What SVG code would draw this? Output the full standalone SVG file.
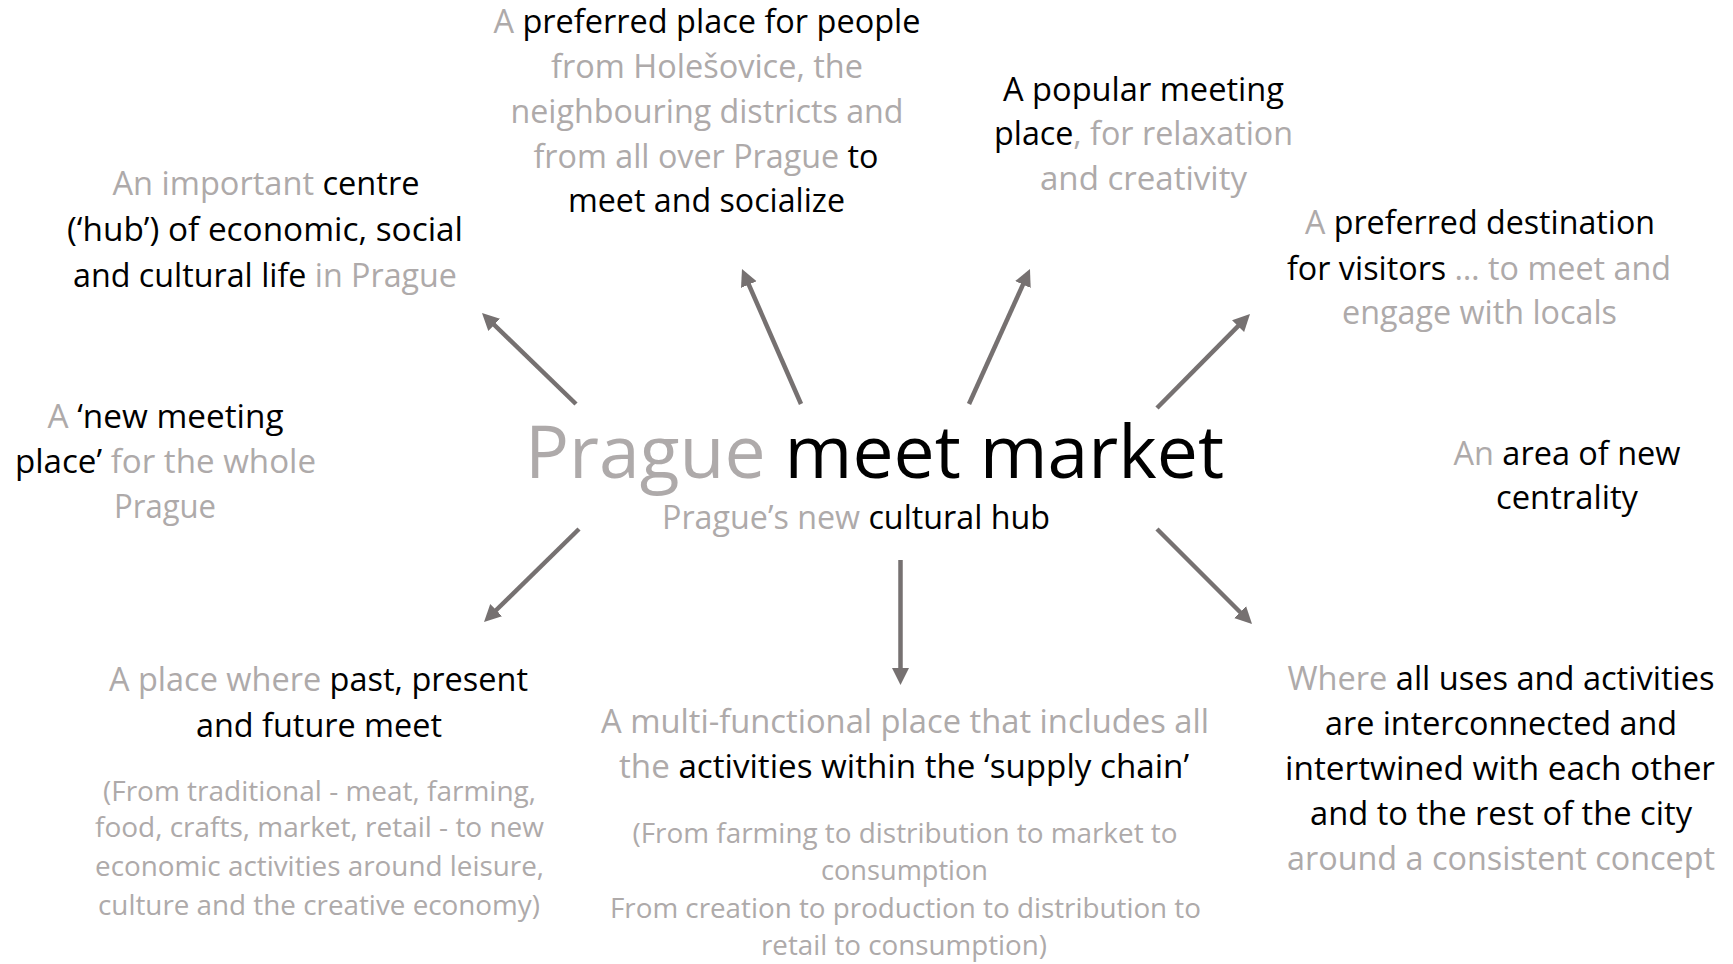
<svg xmlns="http://www.w3.org/2000/svg" width="1733" height="964" viewBox="0 0 1733 964">
  <defs>
    <style>
      text { font-family: "Open Sans", "Liberation Sans", sans-serif; font-weight: 500; text-anchor: middle; fill: #000000; }
      .t { font-size: 32px; }
      .p { font-size: 27.5px; fill: #AEAAAA; }
      .title { font-size: 73px; font-weight: 400; }
      .g { fill: #AEAAAA; }
      .k { fill: #000000; }
      #connectors line { stroke: #767171; stroke-width: 4.5; fill: none; marker-end: url(#arrow); }
    </style>
    <marker id="arrow" markerUnits="userSpaceOnUse" markerWidth="18" markerHeight="18" refX="12" refY="8.5" orient="auto">
      <path d="M0,0 L17,8.5 L0,17 z" fill="#767171"/>
    </marker>
  </defs>

  <rect width="1733" height="964" fill="#ffffff"/>

  <!-- central hub -->
  <g id="hub">
    <text class="title" x="874.5" y="478" textLength="699" lengthAdjust="spacingAndGlyphs"><tspan class="g">Prague</tspan> meet market</text>
    <text class="t" x="856" y="529" textLength="388" lengthAdjust="spacingAndGlyphs"><tspan class="g">Prague’s new</tspan> cultural hub</text>
  </g>

  <!-- spokes from the hub -->
  <g id="connectors">
    <line x1="576" y1="404" x2="485.6" y2="316.5"/>
    <line x1="801" y1="404" x2="744" y2="273.6"/>
    <line x1="969" y1="404" x2="1027.9" y2="273.6"/>
    <line x1="1157" y1="408" x2="1246.5" y2="317.6"/>
    <line x1="579" y1="529" x2="487.6" y2="618.5"/>
    <line x1="900.5" y1="560" x2="900.5" y2="680"/>
    <line x1="1157" y1="529" x2="1248.5" y2="620.5"/>
  </g>

  <g id="centre-of-life">
    <text class="t" x="266" y="195" textLength="307" lengthAdjust="spacingAndGlyphs"><tspan class="g">An important</tspan> centre</text>
    <text class="t" x="265" y="241" textLength="396" lengthAdjust="spacingAndGlyphs">(‘hub’) of economic, social</text>
    <text class="t" x="265" y="287" textLength="384" lengthAdjust="spacingAndGlyphs">and cultural life <tspan class="g">in Prague</tspan></text>
  </g>

  <g id="preferred-place">
    <text class="t" x="707" y="33" textLength="427" lengthAdjust="spacingAndGlyphs"><tspan class="g">A</tspan> preferred place for people</text>
    <text class="t g" x="707" y="78" textLength="312" lengthAdjust="spacingAndGlyphs">from Holešovice, the</text>
    <text class="t g" x="707" y="123" textLength="393" lengthAdjust="spacingAndGlyphs">neighbouring districts and</text>
    <text class="t" x="706" y="168" textLength="345" lengthAdjust="spacingAndGlyphs"><tspan class="g">from all over Prague</tspan> to</text>
    <text class="t" x="706.5" y="212" textLength="277" lengthAdjust="spacingAndGlyphs">meet and socialize</text>
  </g>

  <g id="popular-meeting-place">
    <text class="t" x="1143.5" y="101" textLength="281" lengthAdjust="spacingAndGlyphs">A popular meeting</text>
    <text class="t" x="1143.5" y="145" textLength="299" lengthAdjust="spacingAndGlyphs">place<tspan class="g">, for relaxation</tspan></text>
    <text class="t g" x="1143.5" y="190" textLength="207" lengthAdjust="spacingAndGlyphs">and creativity</text>
  </g>

  <g id="visitor-destination">
    <text class="t" x="1480" y="234" textLength="350" lengthAdjust="spacingAndGlyphs"><tspan class="g">A</tspan> preferred destination</text>
    <text class="t" x="1479" y="280" textLength="384" lengthAdjust="spacingAndGlyphs">for visitors <tspan class="g">… to meet and</tspan></text>
    <text class="t g" x="1479.5" y="324" textLength="275" lengthAdjust="spacingAndGlyphs">engage with locals</text>
  </g>

  <g id="new-centrality">
    <text class="t" x="1567" y="465" textLength="227" lengthAdjust="spacingAndGlyphs"><tspan class="g">An</tspan> area of new</text>
    <text class="t" x="1567" y="509" textLength="142" lengthAdjust="spacingAndGlyphs">centrality</text>
  </g>

  <g id="new-meeting-place">
    <text class="t" x="165.5" y="428" textLength="236" lengthAdjust="spacingAndGlyphs"><tspan class="g">A</tspan> ‘new meeting</text>
    <text class="t" x="165.5" y="473" textLength="301" lengthAdjust="spacingAndGlyphs">place’ <tspan class="g">for the whole</tspan></text>
    <text class="t g" x="165" y="518" textLength="102" lengthAdjust="spacingAndGlyphs">Prague</text>
  </g>

  <g id="past-present-future">
    <text class="t" x="318.5" y="691" textLength="419" lengthAdjust="spacingAndGlyphs"><tspan class="g">A place where</tspan> past, present</text>
    <text class="t" x="319" y="737" textLength="246" lengthAdjust="spacingAndGlyphs">and future meet</text>
    <text class="p" x="319.5" y="801" textLength="433" lengthAdjust="spacingAndGlyphs">(From traditional - meat, farming,</text>
    <text class="p" x="319.5" y="837" textLength="449" lengthAdjust="spacingAndGlyphs">food, crafts, market, retail - to new</text>
    <text class="p" x="319.5" y="876" textLength="449" lengthAdjust="spacingAndGlyphs">economic activities around leisure,</text>
    <text class="p" x="319" y="915" textLength="442" lengthAdjust="spacingAndGlyphs">culture and the creative economy)</text>
  </g>

  <g id="supply-chain">
    <text class="t g" x="905" y="733" textLength="608" lengthAdjust="spacingAndGlyphs">A multi-functional place that includes all</text>
    <text class="t" x="904" y="778" textLength="570" lengthAdjust="spacingAndGlyphs"><tspan class="g">the</tspan> activities within the ‘supply chain’</text>
    <text class="p" x="905" y="843" textLength="545" lengthAdjust="spacingAndGlyphs">(From farming to distribution to market to</text>
    <text class="p" x="904.5" y="880" textLength="167" lengthAdjust="spacingAndGlyphs">consumption</text>
    <text class="p" x="905.5" y="918" textLength="591" lengthAdjust="spacingAndGlyphs">From creation to production to distribution to</text>
    <text class="p" x="904" y="955" textLength="286" lengthAdjust="spacingAndGlyphs">retail to consumption)</text>
  </g>

  <g id="interconnected-uses">
    <text class="t" x="1501" y="690" textLength="427" lengthAdjust="spacingAndGlyphs"><tspan class="g">Where</tspan> all uses and activities</text>
    <text class="t" x="1501" y="735" textLength="352" lengthAdjust="spacingAndGlyphs">are interconnected and</text>
    <text class="t" x="1500" y="780" textLength="430" lengthAdjust="spacingAndGlyphs">intertwined with each other</text>
    <text class="t" x="1501" y="825" textLength="382" lengthAdjust="spacingAndGlyphs">and to the rest of the city</text>
    <text class="t g" x="1501" y="870" textLength="428" lengthAdjust="spacingAndGlyphs">around a consistent concept</text>
  </g>
</svg>
